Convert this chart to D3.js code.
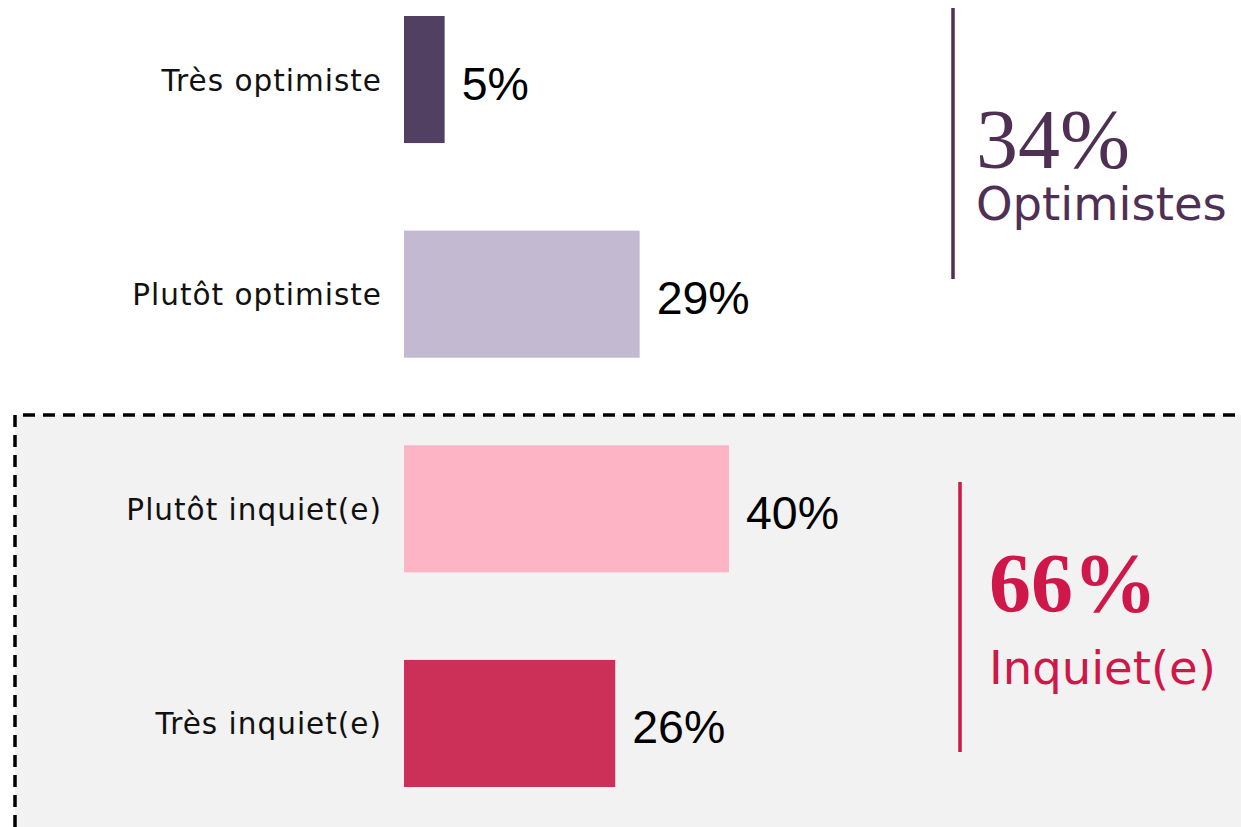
<!DOCTYPE html>
<html>
<head>
<meta charset="utf-8">
<script src="https://cdn.jsdelivr.net/npm/d3@7"></script>
<style>
  body { margin: 0; background: #fff; }
  svg { display: block; }
</style>
</head>
<body>
<div class="chart"></div>
<script>
// data
const categories = ["Très optimiste", "Plutôt optimiste", "Plutôt inquiet(e)", "Très inquiet(e)"];
const values = [5, 29, 40, 26];
const barColors = ["#514062", "#c3b9d1", "#fdb5c5", "#cc2f57"];
const groupLabels = ["Optimistes", "Inquiet(e)"];
const groupTotals = [34, 66];
const groupColors = ["#4f3054", "#d0174a"];

const width = 1241, height = 827;

const svg = d3.select(".chart").append("svg")
  .attr("width", width)
  .attr("height", height);

const x = d3.scaleLinear()
  .domain([0, 100])
  .range([404, 404 + 812.5]);

const y = d3.scaleBand()
  .domain(categories)
  .range([16, 787])
  .paddingInner(0.408)
  .paddingOuter(0);

// grey box behind the "inquiet" group
svg.append("rect")
  .attr("x", 15)
  .attr("y", 415)
  .attr("width", width - 15)
  .attr("height", height - 415)
  .attr("fill", "#f2f2f2");

svg.append("path")
  .attr("d", `M15,${height} L15,415 L${width},415`)
  .attr("fill", "none")
  .attr("stroke", "#000")
  .attr("stroke-width", 3.5)
  .attr("stroke-dasharray", "12,8");

// bars
svg.selectAll(".bar")
  .data(values)
  .join("rect")
  .attr("class", "bar")
  .attr("x", x(0))
  .attr("y", (d, i) => y(categories[i]))
  .attr("width", d => x(d) - x(0))
  .attr("height", y.bandwidth())
  .attr("fill", (d, i) => barColors[i]);

// category labels
svg.selectAll(".cat")
  .data(categories)
  .join("text")
  .attr("class", "cat")
  .attr("x", 382)
  .attr("y", d => y(d) + y.bandwidth() / 2 + 11)
  .attr("text-anchor", "end")
  .attr("font-family", "'DejaVu Sans', sans-serif")
  .attr("font-size", 29.5)
  .attr("letter-spacing", 1)
  .attr("fill", "#111")
  .text(d => d);

// value labels
svg.selectAll(".val")
  .data(values)
  .join("text")
  .attr("class", "val")
  .attr("x", d => x(d) + 17)
  .attr("y", (d, i) => y(categories[i]) + y.bandwidth() / 2 + 20)
  .attr("font-family", "'Liberation Sans', Arial, sans-serif")
  .attr("font-size", 46.5)
  .attr("fill", "#000")
  .text(d => d + "%");

// group summaries
const groupLayout = [
  { lineX: 953, y1: 8, y2: 279, textX: 976, numY: 168, labY: 220 },
  { lineX: 960, y1: 482, y2: 752, textX: 989, numY: 612, labY: 684 }
];

groupLayout.forEach((g, i) => {
  svg.append("line")
    .attr("x1", g.lineX).attr("x2", g.lineX)
    .attr("y1", g.y1).attr("y2", g.y2)
    .attr("stroke", groupColors[i])
    .attr("stroke-width", 3.5);

  svg.append("text")
    .attr("x", g.textX)
    .attr("y", g.numY)
    .attr("font-family", "'Liberation Serif', 'DejaVu Serif', serif")
    .attr("font-size", 84)
    .attr("font-weight", i === 1 ? "bold" : "normal")
    .attr("fill", groupColors[i])
    .text(groupTotals[i] + "%");

  svg.append("text")
    .attr("x", g.textX)
    .attr("y", g.labY)
    .attr("font-family", "'DejaVu Sans', sans-serif")
    .attr("font-size", 46.5)
    .attr("fill", groupColors[i])
    .text(groupLabels[i]);
});
</script>
</body>
</html>
